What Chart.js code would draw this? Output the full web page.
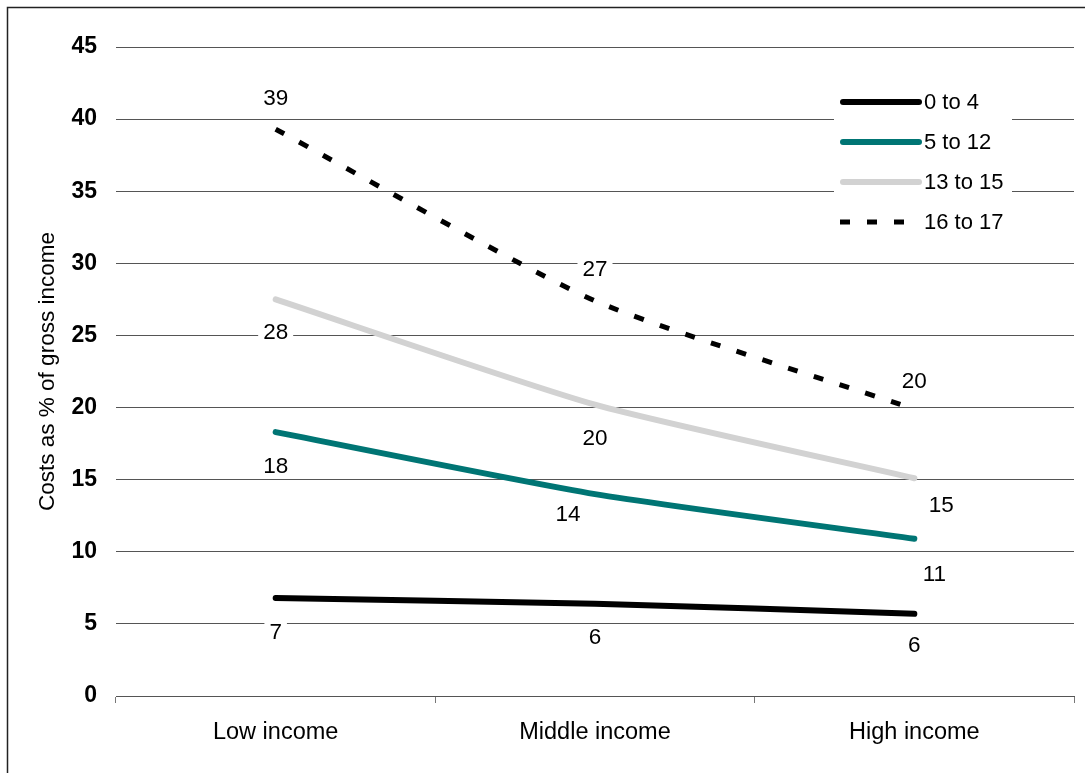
<!DOCTYPE html>
<html>
<head>
<meta charset="utf-8">
<script src="https://cdn.jsdelivr.net/npm/chart.js@4.4.1/dist/chart.umd.min.js"></script>
<style>
  html, body { margin: 0; padding: 0; background: #fff; }
  #wrap { width: 1085px; height: 773px; position: relative; }
</style>
</head>
<body>
<div id="wrap"><canvas id="myChart" width="1085" height="773"></canvas></div>
<script>
// chart data
const categories = ['Low income', 'Middle income', 'High income'];
const seriesNames = ['0 to 4', '5 to 12', '13 to 15', '16 to 17'];
const age0to4 = [6.8, 6.4, 5.7];
const age5to12 = [18.3, 14.0, 10.9];
const age13to15 = [27.5, 20.2, 15.1];
const age16to17 = [39.3, 27.4, 19.9];
const yTicks = [0, 5, 10, 15, 20, 25, 30, 35, 40, 45];

const FONT = 'Arial, "Liberation Sans", sans-serif';

// where each value label sits relative to its point (dx, dy)
const labelOffsets = [
    [[0, 34], [0, 33], [0, 31]],
    [[0, 34], [-27, 20], [20, 35]],
    [[0, 32], [0, 33], [27, 27]],
    [[0, -31], [0, -32], [0, -28]]
];

const ctx = document.getElementById('myChart').getContext('2d');

// frame + value labels + legend
const decorPlugin = {
    id: 'decor',
    beforeDraw(chart) {
        const c = chart.ctx;
        c.save();
        c.fillStyle = '#fff';
        c.fillRect(0, 0, chart.width, chart.height);
        c.strokeStyle = '#222';
        c.lineWidth = 1.5;
        c.beginPath();
        c.moveTo(7.5, chart.height + 5);
        c.lineTo(7.5, 7.5);
        c.lineTo(chart.width + 5, 7.5);
        c.stroke();
        c.restore();
    },
    afterDatasetsDraw(chart) {
        const c = chart.ctx;
        c.save();
        c.font = '22.5px ' + FONT;
        c.textAlign = 'center';
        c.textBaseline = 'middle';
        chart.data.datasets.forEach((ds, i) => {
            const meta = chart.getDatasetMeta(i);
            meta.data.forEach((pt, j) => {
                const txt = String(Math.round(ds.data[j]));
                const off = labelOffsets[i][j];
                const x = pt.x + off[0];
                const y = pt.y + off[1];
                const w = c.measureText(txt).width + 10;
                c.fillStyle = '#fff';
                c.fillRect(x - w / 2, y - 12, w, 24);
                c.fillStyle = '#000';
                c.fillText(txt, x, y + 1);
            });
        });
        c.restore();
    },
    afterDraw(chart) {
        const c = chart.ctx;
        c.save();
        c.fillStyle = '#fff';
        c.fillRect(834, 84, 178, 156);
        c.font = '22px ' + FONT;
        c.textAlign = 'left';
        c.textBaseline = 'middle';
        chart.data.datasets.forEach((ds, i) => {
            const y = 102 + i * 40;
            c.strokeStyle = ds.borderColor;
            c.lineWidth = ds.borderWidth;
            c.lineCap = ds.borderDash ? 'butt' : 'round';
            c.setLineDash(ds.borderDash || []);
            c.beginPath();
            c.moveTo(ds.borderDash ? 840 : 843, y);
            c.lineTo(ds.borderDash ? 910 : 919, y);
            c.stroke();
            c.setLineDash([]);
            c.fillStyle = '#000';
            c.fillText(ds.label, 924, y + 1);
        });
        c.restore();
    }
};

const data = {
    labels: categories,
    datasets: [
        { label: seriesNames[0], data: age0to4, borderColor: '#000000', borderWidth: 6 },
        { label: seriesNames[1], data: age5to12, borderColor: '#007574', borderWidth: 6 },
        { label: seriesNames[2], data: age13to15, borderColor: '#d2d2d2', borderWidth: 6 },
        { label: seriesNames[3], data: age16to17, borderColor: '#000000', borderWidth: 5, borderDash: [10, 17] }
    ].map(d => Object.assign({
        fill: false,
        tension: 0.2,
        pointRadius: 0,
        pointHoverRadius: 0,
        borderCapStyle: d.borderDash ? 'butt' : 'round',
        borderJoinStyle: 'round'
    }, d))
};

const config = {
    type: 'line',
    data: data,
    plugins: [decorPlugin],
    options: {
        responsive: false,
        animation: false,
        devicePixelRatio: 1,
        layout: { padding: { left: 25, right: 11, top: 47, bottom: 13 } },
        plugins: {
            legend: { display: false },
            tooltip: { enabled: false }
        },
        scales: {
            x: {
                offset: true,
                grid: { display: true, drawOnChartArea: false, offset: true, tickLength: 7, color: '#777' },
                border: { display: true, color: '#555', width: 1 },
                ticks: { color: '#000', padding: 15, font: { family: FONT, size: 23.5 } },
                afterFit(scale) { scale.height = 64; }
            },
            y: {
                min: 0,
                max: 45,
                afterBuildTicks(scale) { scale.ticks = yTicks.map(v => ({ value: v })); },
                grid: { color: '#555', lineWidth: 1, drawTicks: false },
                border: { display: false },
                ticks: { color: '#000', padding: 19, font: { family: FONT, size: 23, weight: 'bold' } },
                title: {
                    display: true,
                    text: 'Costs as % of gross income',
                    color: '#000',
                    padding: { top: 9, bottom: 0 },
                    font: { family: FONT, size: 22.5 }
                },
                afterFit(scale) { scale.width = 91; }
            }
        }
    }
};

const conversionChart = new Chart(ctx, config);
</script>
</body>
</html>
